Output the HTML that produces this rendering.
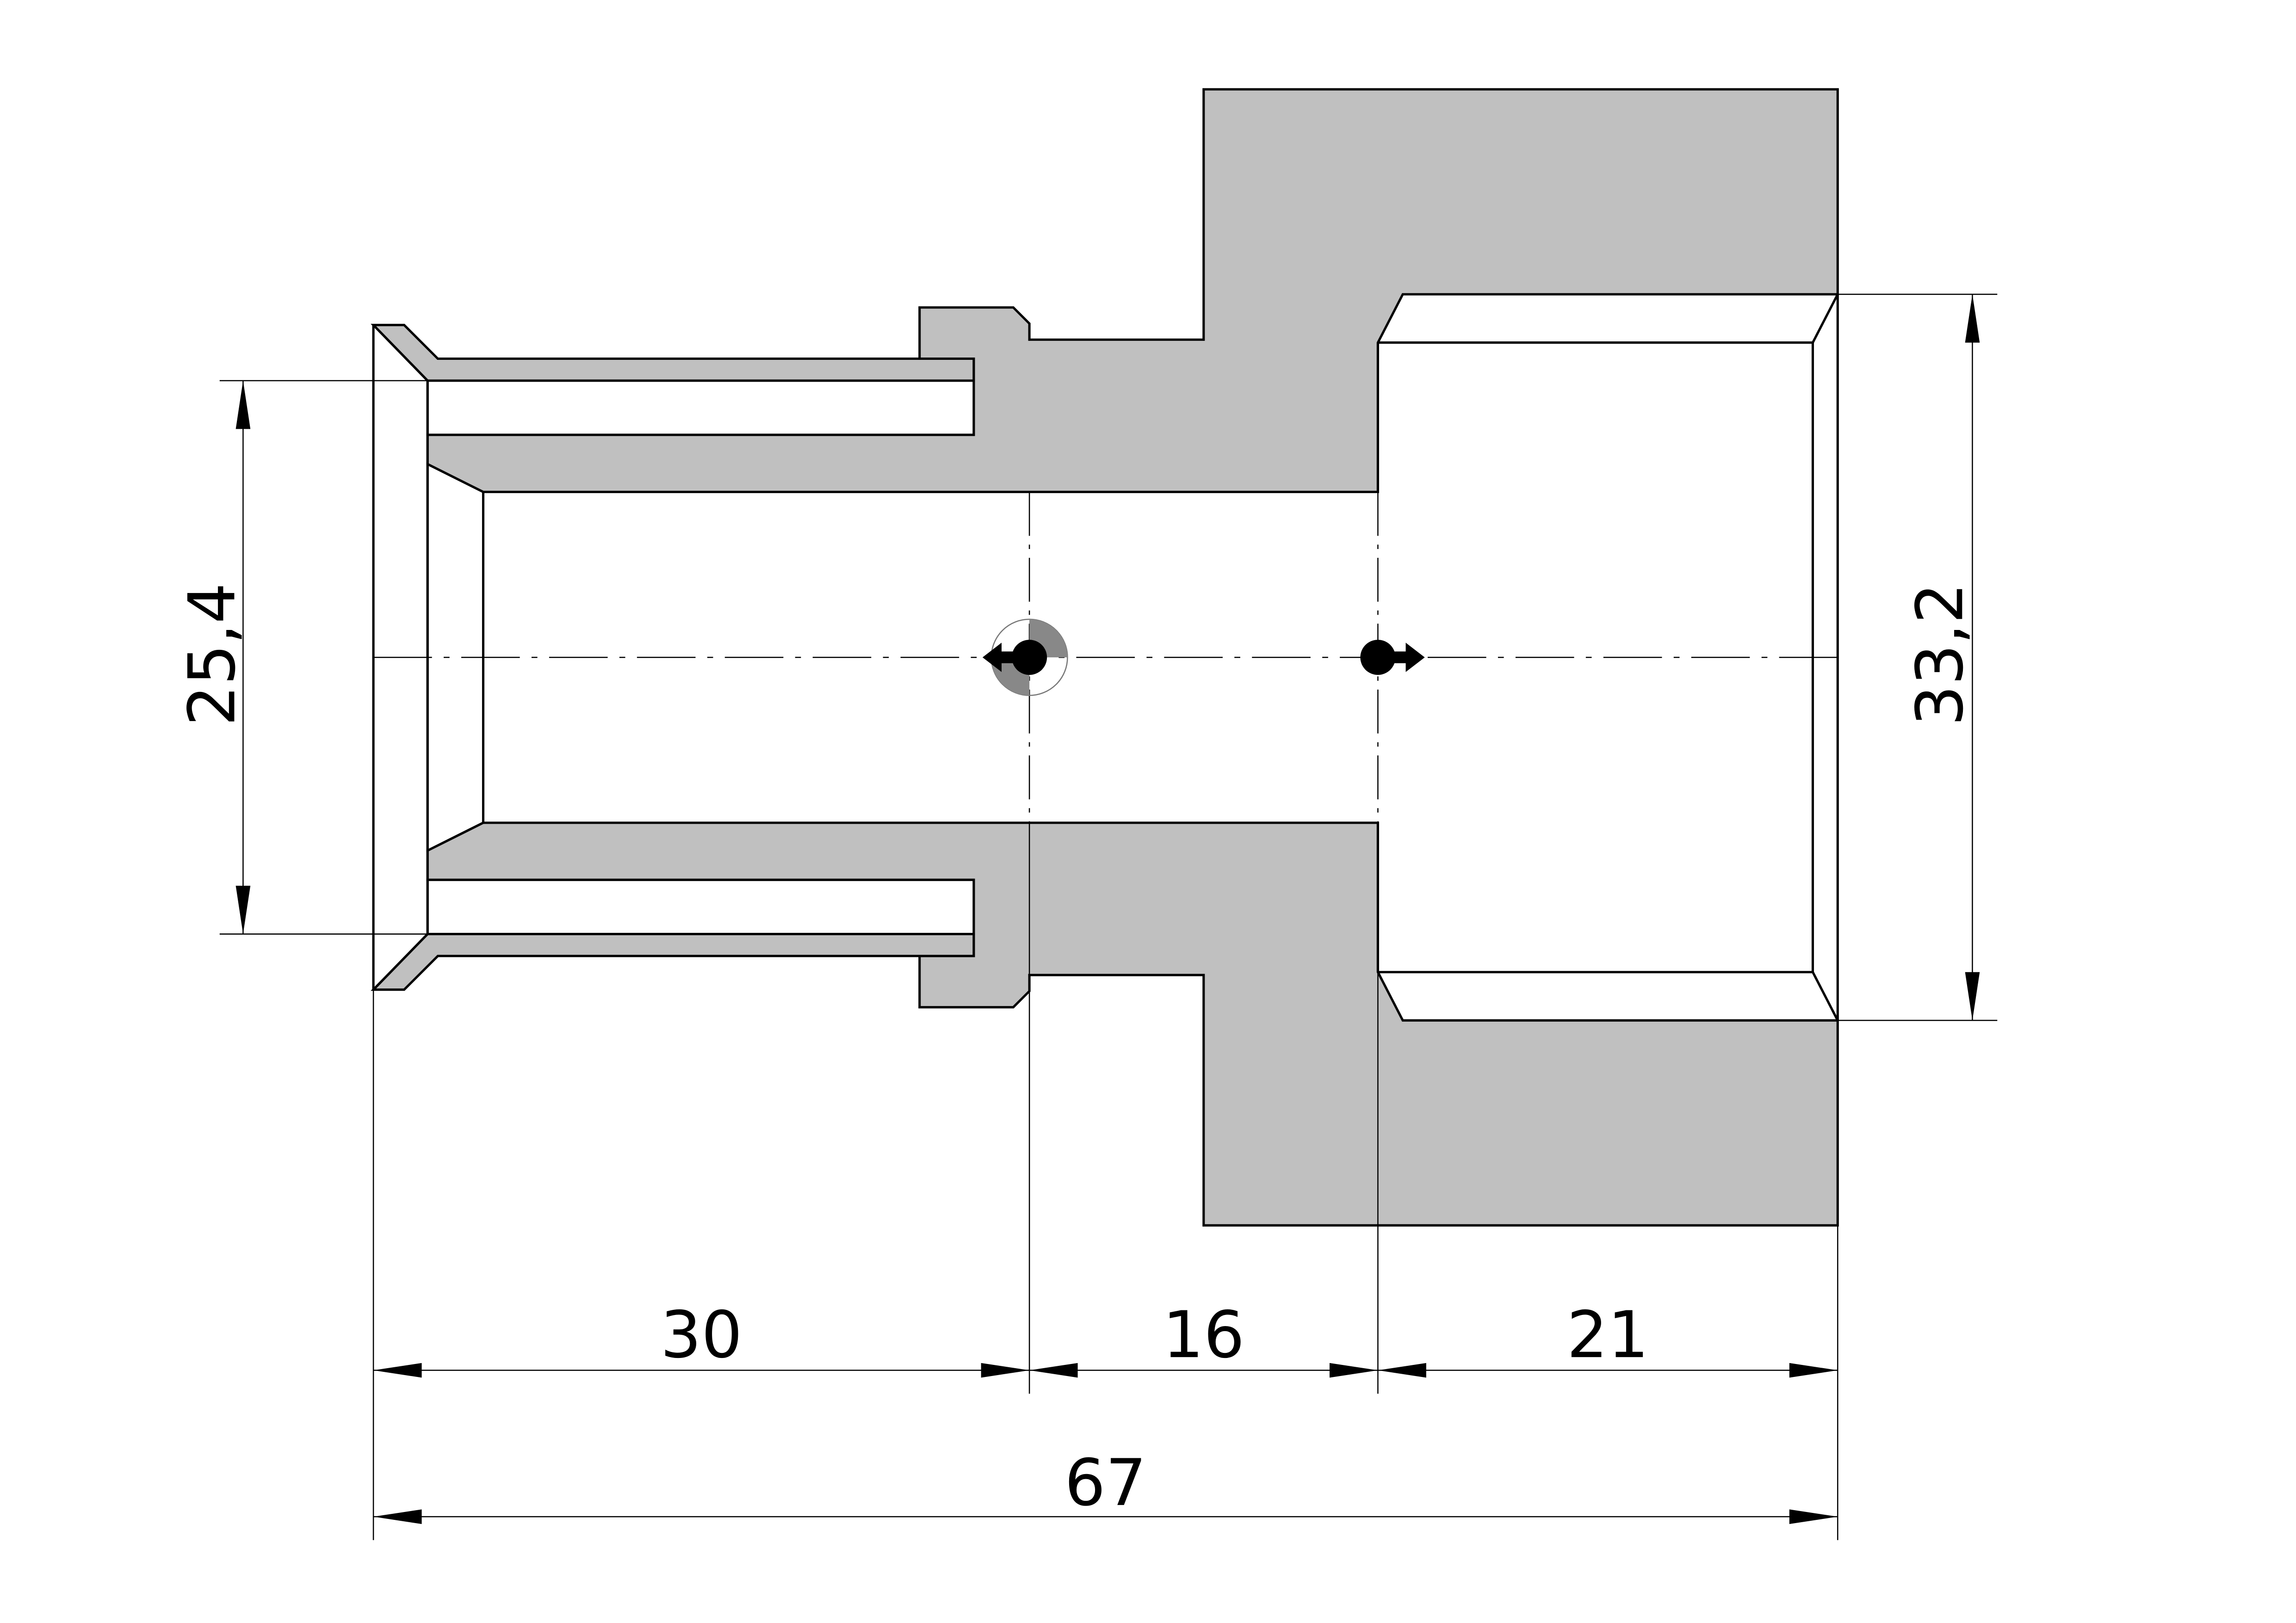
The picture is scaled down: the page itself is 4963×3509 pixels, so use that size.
<!DOCTYPE html>
<html><head><meta charset="utf-8"><style>
html,body{margin:0;padding:0;background:#fff;}
svg{display:block;}
</style></head><body>
<svg width="4963" height="3509" viewBox="0 0 1568 1108.6" xmlns="http://www.w3.org/2000/svg">
<defs>
<g id="half">
<polygon points="628,210 692,210 703,221 703,232 822,232 822,61 1255,61 1255,201 958,201 941,234 941,336 330,336 292,317 292,297 665,297 665,245 628,245" fill="#c0c0c0" stroke="#000" stroke-width="1.6" stroke-linejoin="miter"/>
<polygon points="255,222 276,222 299,245 665,245 665,260 292,260" fill="#c0c0c0" stroke="#000" stroke-width="1.6"/>
<rect x="292" y="260" width="373" height="37" fill="#fff" stroke="#000" stroke-width="1.6"/>
<line x1="941" y1="234" x2="1238" y2="234" stroke="#000" stroke-width="1.6"/>
<line x1="1238" y1="234" x2="1255" y2="201" stroke="#000" stroke-width="1.6"/>
</g>
<polygon id="ah" points="0,0 33,-5 33,5" fill="#000"/>
</defs>
<rect width="1568" height="1108.6" fill="#fff"/>
<polygon points="292,317 330,336 330,562 292,581" fill="#fff" stroke="#000" stroke-width="1.6"/>
<use href="#half"/>
<use href="#half" transform="translate(0,898) scale(1,-1)"/>
<line x1="255" y1="222" x2="255" y2="676" stroke="#000" stroke-width="1.6"/>
<line x1="292" y1="260" x2="292" y2="638" stroke="#000" stroke-width="1.6"/>
<line x1="255" y1="222" x2="292" y2="260" stroke="#000" stroke-width="1.6"/>
<line x1="255" y1="676" x2="292" y2="638" stroke="#000" stroke-width="1.6"/>
<line x1="1238" y1="234" x2="1238" y2="664" stroke="#000" stroke-width="1.6"/>
<line x1="1255" y1="201" x2="1255" y2="697" stroke="#000" stroke-width="1.6"/>
<line x1="941" y1="234" x2="941" y2="336" stroke="#000" stroke-width="1.6"/>
<line x1="941" y1="562" x2="941" y2="664" stroke="#000" stroke-width="1.6"/>
<line x1="703" y1="336" x2="703" y2="562" stroke="#000" stroke-width="0.8" stroke-dasharray="30,6,3,6"/>
<line x1="941" y1="336" x2="941" y2="562" stroke="#000" stroke-width="0.8" stroke-dasharray="30,6,3,6"/>
<line x1="703" y1="562" x2="703" y2="665" stroke="#000" stroke-width="0.8"/>
<line x1="255" y1="449" x2="1255" y2="449" stroke="#000" stroke-width="0.8" stroke-dasharray="40,8,4,8"/>
<g stroke="#000" stroke-width="0.8">
<line x1="255" y1="676" x2="255" y2="1052"/>
<line x1="1255" y1="697" x2="1255" y2="1052"/>
<line x1="703" y1="665" x2="703" y2="952"/>
<line x1="941" y1="664" x2="941" y2="952"/>
<line x1="150" y1="260" x2="292" y2="260"/>
<line x1="150" y1="638" x2="292" y2="638"/>
<line x1="1255" y1="201" x2="1364" y2="201"/>
<line x1="1255" y1="697" x2="1364" y2="697"/>
<line x1="166" y1="260" x2="166" y2="638"/>
<line x1="1347" y1="201" x2="1347" y2="697"/>
<line x1="255" y1="936" x2="1255" y2="936"/>
<line x1="255" y1="1036" x2="1255" y2="1036"/>
</g>
<use href="#ah" transform="translate(255,936)"/>
<use href="#ah" transform="translate(703,936) scale(-1,1)"/>
<use href="#ah" transform="translate(703,936)"/>
<use href="#ah" transform="translate(941,936) scale(-1,1)"/>
<use href="#ah" transform="translate(941,936)"/>
<use href="#ah" transform="translate(1255,936) scale(-1,1)"/>
<use href="#ah" transform="translate(255,1036)"/>
<use href="#ah" transform="translate(1255,1036) scale(-1,1)"/>
<use href="#ah" transform="translate(166,260) rotate(90)"/>
<use href="#ah" transform="translate(166,638) rotate(-90)"/>
<use href="#ah" transform="translate(1347,201) rotate(90)"/>
<use href="#ah" transform="translate(1347,697) rotate(-90)"/>
<circle cx="703" cy="449" r="26" fill="none" stroke="#777" stroke-width="0.8"/>
<path d="M703,423 A26,26 0 0 1 729,449 L703,449 Z" fill="#888"/>
<path d="M677,449 A26,26 0 0 0 703,475 L703,449 Z" fill="#888"/>
<circle cx="703" cy="449" r="12" fill="#000"/>
<polygon points="671,449 684,439 684,445 700,445 700,453 684,453 684,459" fill="#000"/>
<circle cx="941" cy="449" r="12" fill="#000"/>
<polygon points="973,449 960,439 960,445 944,445 944,453 960,453 960,459" fill="#000"/>
<g font-family="'DejaVu Sans','Liberation Sans',sans-serif" font-size="44" fill="#000" text-anchor="middle">
<text x="479" y="927">30</text>
<text x="822" y="927">16</text>
<text x="1098" y="927">21</text>
<text x="755" y="1028">67</text>
<text transform="translate(160,447) rotate(-90)">25,4</text>
<text transform="translate(1340,447) rotate(-90)">33,2</text>
</g>
</svg>
</body></html>
